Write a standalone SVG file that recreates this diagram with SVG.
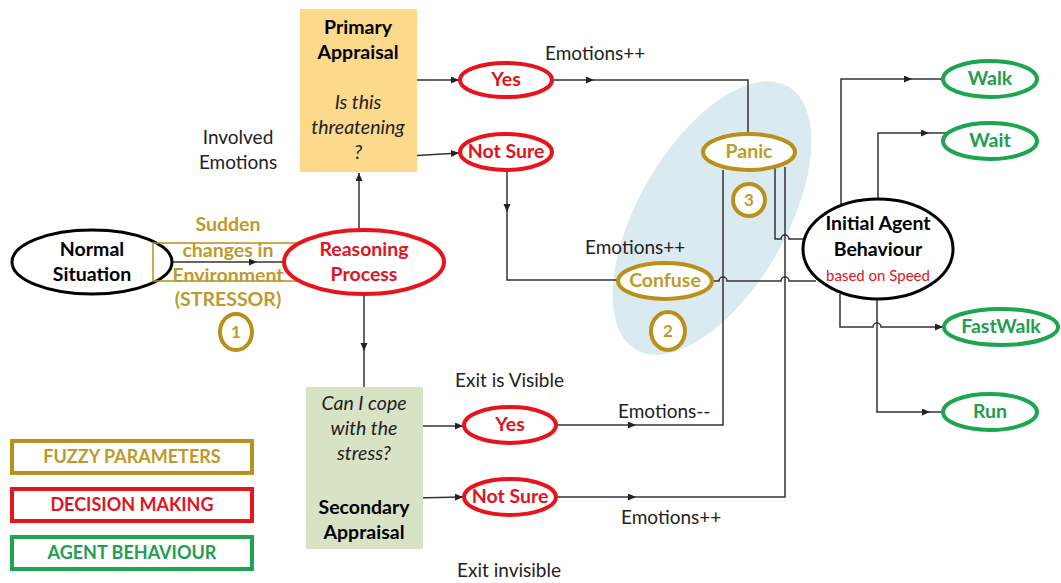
<svg xmlns="http://www.w3.org/2000/svg" width="1061" height="583" viewBox="0 0 1061 583">
<style>
text{font-family:Lato,"Open Sans","Liberation Sans",sans-serif;text-anchor:middle}
.b{font-weight:bold;font-size:19.5px}
.n{font-size:19px;fill:#222}
.i{font-style:italic;font-size:19.5px;fill:#222}
.gold{fill:#BE9A2C}
.red{fill:#E0141E}
.grn{fill:#1E9E4E}
.eg{fill:#fff;stroke:#B8901A;stroke-width:4}
.er{fill:#fff;stroke:#E8141B;stroke-width:4}
.eG{fill:#fff;stroke:#1DA550;stroke-width:4}
.eb{fill:#fff;stroke:#000;stroke-width:3}
.c{fill:none;stroke:#333;stroke-width:1.5}
.l{text-anchor:start}
.num{font-size:17px}
.lg{font-size:18px}
</style>
<defs>
<marker id="a" markerWidth="9" markerHeight="8" refX="8" refY="3.5" orient="auto" markerUnits="userSpaceOnUse">
<path d="M0,0 L8,3.5 L0,7 z" fill="#222"/>
</marker>
</defs>

<ellipse id="cluster" cx="712" cy="218" rx="152" ry="74" transform="rotate(-60 712 218)" fill="#DAEAF1"/>

<g id="connectors" class="c">
<path d="M173,262 H257" marker-end="url(#a)"/><path d="M257,262 H284"/>
<path d="M359,230 V173" marker-end="url(#a)"/>
<path d="M413,80 H459" marker-end="url(#a)"/>
<path d="M409,156 L459,153" marker-end="url(#a)"/>
<path d="M553,80 H594" marker-end="url(#a)"/><path d="M594,80 H748 V133"/>
<path d="M507,171 V212" marker-end="url(#a)"/><path d="M507,212 V280 H617"/>
<path d="M713,281 H719 a4,4 0 0 1 8,0 H781 a4,4 0 0 1 8,0 H816"/>
<path d="M775,168 V239 H781 a4,4 0 0 1 8,0 H803"/>
<path d="M557,425 H636" marker-end="url(#a)"/><path d="M636,425 H723 V170"/>
<path d="M557,497 H636" marker-end="url(#a)"/><path d="M636,497 H785 V167"/>
<path d="M416,426 H463" marker-end="url(#a)"/>
<path d="M414,498 L463,497" marker-end="url(#a)"/>
<path d="M364,294 V351" marker-end="url(#a)"/><path d="M364,351 V387"/>
<path d="M841,204 V79 H912" marker-end="url(#a)"/><path d="M912,79 H943"/>
<path d="M878,198 V133 H929" marker-end="url(#a)"/><path d="M929,133 H947"/>
<path d="M840,294 V327 H873 a4,4 0 0 1 8,0 H943" marker-end="url(#a)"/>
<path d="M877,288 V412 H930" marker-end="url(#a)"/><path d="M930,412 H943"/>
</g>

<g id="normal"><ellipse class="eb" cx="92" cy="262" rx="80" ry="32"/>
<text class="b" x="92" y="256">Normal</text><text class="b" x="92" y="281">Situation</text></g>

<g id="stressor"><rect x="153" y="243" width="149" height="38" fill="none" stroke="#B8901A" stroke-width="1.5"/>
<text class="b gold" x="228" y="231">Sudden</text><text class="b gold" x="228" y="257">changes in</text>
<text class="b gold" x="228" y="282">Environment</text><text class="b gold" x="228" y="306">(STRESSOR)</text></g>

<g id="reasoning"><ellipse class="er" cx="364" cy="262" rx="80" ry="32"/>
<text class="b red" x="364" y="256">Reasoning</text><text class="b red" x="364" y="281">Process</text></g>

<g id="n1"><ellipse class="eg" cx="236" cy="332" rx="16" ry="18"/><text class="b gold num" x="236" y="338">1</text></g>

<g id="primary"><rect x="300" y="9" width="117" height="163" fill="#FCD98B"/>
<text class="b" x="358" y="34">Primary</text><text class="b" x="358" y="59">Appraisal</text>
<text class="i" x="358" y="109">Is this</text><text class="i" x="358" y="134">threatening</text><text class="i" x="358" y="159">?</text></g>

<g id="involved"><text class="n" x="238" y="144">Involved</text><text class="n" x="238" y="169">Emotions</text></g>

<g id="yes1"><ellipse class="er" cx="506" cy="80" rx="46" ry="17"/><text class="b red" x="506" y="86">Yes</text></g>
<g id="notsure1"><ellipse class="er" cx="506" cy="152" rx="46" ry="18"/><text class="b red" x="506" y="158">Not Sure</text></g>

<text class="n l" x="545" y="60">Emotions++</text>
<text class="n l" x="585" y="254">Emotions++</text>

<g id="panic"><ellipse class="eg" cx="749" cy="152" rx="46" ry="18"/><text class="b gold" x="749" y="158">Panic</text></g>
<g id="n3"><ellipse class="eg" cx="749" cy="200" rx="16" ry="16"/><text class="b gold num" x="749" y="206">3</text></g>

<g id="confuse"><ellipse class="eg" cx="665" cy="281" rx="47" ry="18"/><text class="b gold" x="665" y="287">Confuse</text></g>
<g id="n2"><ellipse class="eg" cx="668" cy="331" rx="17" ry="19"/><text class="b gold num" x="668" y="337">2</text></g>

<g id="iab"><ellipse class="eb" cx="878" cy="249" rx="75" ry="50"/>
<text class="b" x="878" y="230">Initial Agent</text><text class="b" x="878" y="256">Behaviour</text>
<text class="red" x="878" y="281" style="font-size:15px">based on Speed</text></g>

<g id="walk"><ellipse class="eG" cx="990" cy="79" rx="47" ry="18"/><text class="b grn" x="990" y="85">Walk</text></g>
<g id="wait"><ellipse class="eG" cx="990" cy="141" rx="47" ry="18"/><text class="b grn" x="990" y="147">Wait</text></g>
<g id="fastwalk"><ellipse class="eG" cx="1001" cy="327" rx="57" ry="18"/><text class="b grn" x="1001" y="333">FastWalk</text></g>
<g id="run"><ellipse class="eG" cx="990" cy="412" rx="47" ry="18"/><text class="b grn" x="990" y="418">Run</text></g>

<g id="secondary"><rect x="306" y="387" width="117" height="162" fill="#D8E2C5"/>
<text class="i" x="364" y="410">Can I cope</text><text class="i" x="364" y="435">with the</text><text class="i" x="364" y="460">stress?</text>
<text class="b" x="364" y="514">Secondary</text><text class="b" x="364" y="539">Appraisal</text></g>

<text class="n l" x="455" y="387">Exit is Visible</text>
<g id="yes2"><ellipse class="er" cx="510" cy="425" rx="46" ry="18"/><text class="b red" x="510" y="431">Yes</text></g>
<g id="notsure2"><ellipse class="er" cx="510" cy="497" rx="46" ry="18"/><text class="b red" x="510" y="503">Not Sure</text></g>
<text class="n l" x="618" y="418">Emotions--</text>
<text class="n l" x="621" y="524">Emotions++</text>
<text class="n l" x="457" y="577">Exit invisible</text>

<g id="legend">
<rect x="12" y="441" width="240" height="32" fill="#fff" stroke="#B8901A" stroke-width="4"/>
<text class="b gold lg" x="132" y="463">FUZZY PARAMETERS</text>
<rect x="12" y="489" width="240" height="32" fill="#fff" stroke="#E8141B" stroke-width="4"/>
<text class="b red lg" x="132" y="511">DECISION MAKING</text>
<rect x="12" y="537" width="240" height="32" fill="#fff" stroke="#1DA550" stroke-width="4"/>
<text class="b grn lg" x="132" y="559">AGENT BEHAVIOUR</text>
</g>
</svg>
